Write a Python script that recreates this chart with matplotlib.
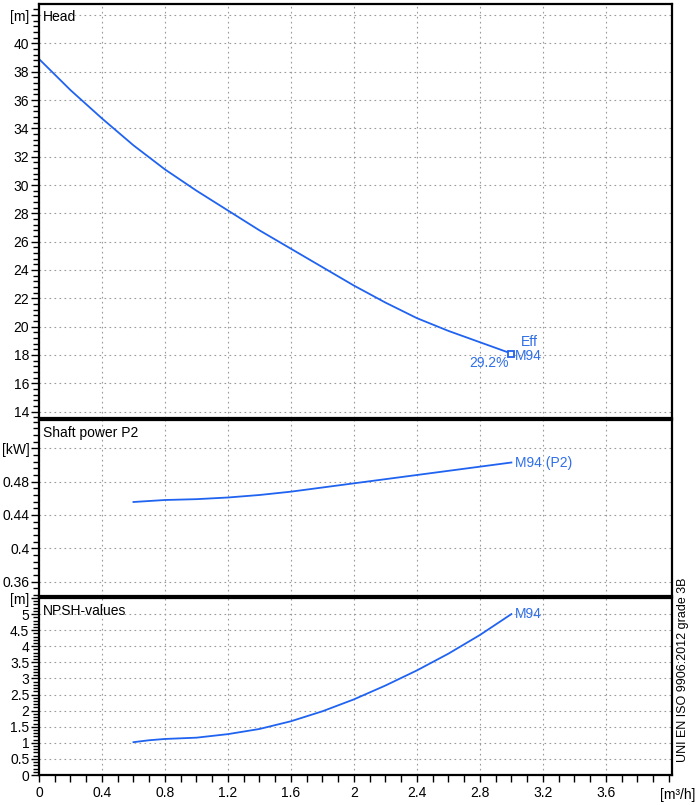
import matplotlib.pyplot as plt
import numpy as np
from matplotlib.ticker import MultipleLocator

plt.rcParams['font.family'] = ['Liberation Sans', 'DejaVu Sans']

# flow rate [m3/h]
q_head = [0, 0.1, 0.2, 0.3, 0.4, 0.6, 0.8, 1.0, 1.2, 1.4, 1.6, 1.8, 2.0, 2.2, 2.4, 2.6, 2.8, 3.0]
head = [38.9, 37.8, 36.7, 35.7, 34.7, 32.8, 31.1, 29.6, 28.2, 26.8, 25.5, 24.2, 22.9, 21.7, 20.6, 19.7, 18.9, 18.1]

q_pow = [0.6, 0.8, 1.0, 1.2, 1.4, 1.6, 1.8, 2.0, 2.2, 2.4, 2.6, 2.8, 3.0]
power = [0.4556, 0.458, 0.459, 0.461, 0.464, 0.468, 0.473, 0.478, 0.483, 0.488, 0.493, 0.498, 0.503]

q_npsh = [0.6, 0.7, 0.8, 1.0, 1.2, 1.4, 1.6, 1.8, 2.0, 2.2, 2.4, 2.6, 2.8, 3.0]
npsh = [1.02, 1.08, 1.12, 1.16, 1.27, 1.43, 1.67, 1.98, 2.35, 2.78, 3.25, 3.77, 4.35, 5.0]

# duty point
duty_q = 3.0
duty_h = 18.1
eff_label = '29.2%'

x_ticks = [0, 0.4, 0.8, 1.2, 1.6, 2.0, 2.4, 2.8, 3.2, 3.6]
x_labels = ['0', '0.4', '0.8', '1.2', '1.6', '2', '2.4', '2.8', '3.2', '3.6']
head_ticks = [14, 16, 18, 20, 22, 24, 26, 28, 30, 32, 34, 36, 38, 40, 42]
head_labels = ['14', '16', '18', '20', '22', '24', '26', '28', '30', '32', '34', '36', '38', '40', '[m]']
pow_ticks = [0.36, 0.40, 0.44, 0.48, 0.52]
pow_labels = ['0.36', '0.4', '0.44', '0.48', '[kW]']
npsh_ticks = [0, 0.5, 1, 1.5, 2, 2.5, 3, 3.5, 4, 4.5, 5, 5.5]
npsh_labels = ['0', '0.5', '1', '1.5', '2', '2.5', '3', '3.5', '4', '4.5', '5', '[m]']

blue = '#1f63f0'
tblue = '#2f6fe8'

fig = plt.figure(figsize=(6.96, 8.05), dpi=100)
L, W = 39 / 696, (672 - 39) / 696
ax1 = fig.add_axes([L, 1 - 418 / 805, W, 414 / 805])
ax2 = fig.add_axes([L, 1 - 596 / 805, W, 176 / 805])
ax3 = fig.add_axes([L, 1 - 775 / 805, W, 177 / 805])

for ax in (ax1, ax2, ax3):
    ax.set_xlim(0, 4.02)
    ax.set_xticks(x_ticks)
    ax.xaxis.set_minor_locator(MultipleLocator(0.1))
    ax.grid(True, which='major', color='#9a9a9a', linestyle=(0, (1.5, 3)), linewidth=0.8)
    for s in ax.spines.values():
        s.set_linewidth(1.6)
    ax.tick_params(axis='y', which='major', direction='out', length=6, width=1, labelsize=10, pad=1)
    ax.tick_params(axis='y', which='minor', direction='out', length=4.5, width=1)
    ax.tick_params(axis='x', which='both', direction='out', length=5, width=1, labelsize=10, pad=3)

for ax in (ax1, ax2):
    ax.tick_params(axis='x', which='both', bottom=False, labelbottom=False)

ax3.set_xticklabels(x_labels)

# Head
ax1.plot(q_head, head, color=blue, lw=1.3)
ax1.plot([duty_q], [duty_h], marker='s', ms=5, mfc='white', mec=blue, mew=1.3)
ax1.text(3.06, 18.95, 'Eff', color=tblue, fontsize=10, va='center')
ax1.text(3.025, 17.95, 'M94', color=tblue, fontsize=10, va='center')
ax1.text(2.985, 17.45, eff_label, color=tblue, fontsize=10, va='center', ha='right')
ax1.set_ylim(13.55, 42.78)
ax1.set_yticks(head_ticks)
ax1.set_yticklabels(head_labels)
ax1.yaxis.set_minor_locator(MultipleLocator(0.4))

# Power
ax2.plot(q_pow, power, color=blue, lw=1.3)
ax2.text(3.02, power[-1], 'M94 (P2)', color=tblue, fontsize=10, va='center')
ax2.set_ylim(0.3428, 0.554)
ax2.set_yticks(pow_ticks)
ax2.set_yticklabels(pow_labels)
ax2.yaxis.set_minor_locator(MultipleLocator(0.008))

# NPSH
ax3.plot(q_npsh, npsh, color=blue, lw=1.3)
ax3.text(3.02, npsh[-1], 'M94', color=tblue, fontsize=10, va='center')
ax3.set_ylim(0, 5.46)
ax3.set_yticks(npsh_ticks)
ax3.set_yticklabels(npsh_labels)
ax3.yaxis.set_minor_locator(MultipleLocator(0.1))

for ax, title in ((ax1, 'Head'), (ax2, 'Shaft power P2'), (ax3, 'NPSH-values')):
    ax.annotate(title, xy=(0, 1), xycoords='axes fraction', xytext=(3, -4),
                textcoords='offset points', va='top', ha='left', fontsize=10)

fig.text(660 / 696, 1 - 795 / 805, '[m³/h]', fontsize=10, va='center', ha='left')
fig.text(683 / 696, 1 - 762 / 805, 'UNI EN ISO 9906:2012 grade 3B', rotation=90,
         fontsize=9, va='bottom', ha='center')

fig.savefig('out.png', dpi=100)
